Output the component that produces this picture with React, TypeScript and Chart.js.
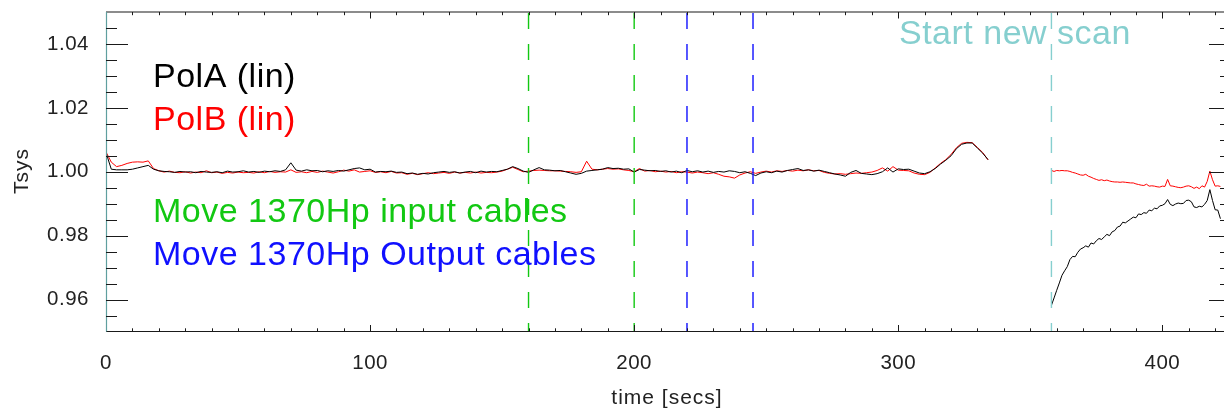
import React, { useEffect, useRef } from "react";
import { Chart, registerables } from "chart.js";

Chart.register(...registerables);

// ---- data ----
const SCAN1_START = 0;
const SCAN1_STEP = 2;
const SCAN2_START = 358;
const SCAN2_STEP = 1;

const polA_scan1 = [
  1.0060, 1.0008, 1.0006, 1.0006, 1.0006, 1.0008, 1.0012, 1.0016, 1.0020, 1.0008,
  1.0003, 1.0001, 1.0000, 0.9998, 1.0001, 0.9999, 1.0000, 0.9997, 1.0001, 0.9999,
  0.9998, 1.0000, 0.9997, 1.0002, 0.9999, 1.0000, 1.0003, 0.9999, 1.0001, 0.9998,
  1.0002, 1.0000, 1.0003, 1.0001, 1.0006, 1.0028, 1.0005, 1.0002, 1.0006, 1.0003,
  1.0004, 1.0000, 1.0003, 1.0001, 1.0004, 1.0002, 1.0006, 1.0010, 1.0012, 1.0006,
  1.0008, 0.9999, 1.0001, 1.0000, 1.0002, 0.9998, 0.9999, 0.9994, 0.9996, 0.9992,
  0.9995, 0.9993, 0.9997, 0.9999, 1.0001, 0.9998, 1.0000, 0.9996, 0.9999, 1.0001,
  0.9997, 1.0002, 0.9999, 1.0001, 1.0000, 1.0004, 1.0008, 1.0016, 1.0010, 1.0002,
  0.9998, 1.0006, 1.0013, 1.0006, 1.0005, 1.0003, 1.0004, 1.0000, 0.9996, 0.9992,
  0.9995, 1.0002, 1.0004, 1.0006, 1.0008, 1.0013, 1.0010, 1.0011, 1.0008, 1.0009,
  0.9999, 1.0007, 1.0005, 1.0003, 1.0004, 1.0001, 1.0003, 0.9999, 1.0002, 0.9997,
  1.0004, 1.0000, 1.0003, 0.9999, 1.0002, 0.9998, 1.0001, 0.9999, 1.0003, 1.0001,
  0.9997, 1.0000, 0.9995, 0.9988, 0.9996, 1.0000, 0.9997, 1.0002, 0.9999, 1.0004,
  1.0007, 1.0010, 1.0004, 1.0006, 1.0002, 1.0005, 1.0001, 0.9997, 0.9993, 0.9990,
  0.9986, 0.9998, 1.0004, 0.9995, 0.9993, 0.9991, 0.9994, 1.0000, 1.0012, 0.9999,
  1.0009, 1.0007, 1.0008, 1.0002, 0.9996, 0.9994, 1.0000, 1.0010, 1.0024, 1.0036,
  1.0050, 1.0072, 1.0086, 1.0090, 1.0090, 1.0074, 1.0058, 1.0038,
];

const polB_scan1 = [
  1.0062, 1.0030, 1.0016, 1.0020, 1.0026, 1.0030, 1.0031, 1.0030, 1.0034, 1.0010,
  1.0003, 0.9999, 1.0002, 0.9998, 0.9997, 1.0000, 0.9996, 0.9999, 0.9997, 1.0003,
  0.9997, 0.9999, 0.9995, 0.9998, 0.9996, 0.9999, 0.9997, 0.9998, 0.9996, 1.0000,
  0.9997, 1.0001, 0.9998, 1.0000, 0.9999, 1.0006, 0.9998, 1.0000, 0.9997, 1.0001,
  0.9998, 1.0002, 0.9999, 0.9996, 1.0000, 1.0005, 1.0002, 1.0006, 0.9999, 1.0001,
  1.0003, 0.9998, 1.0000, 0.9997, 1.0001, 0.9996, 0.9997, 0.9992, 0.9995, 0.9991,
  0.9994, 0.9997, 0.9994, 0.9996, 0.9998, 0.9995, 0.9999, 0.9996, 0.9998, 0.9996,
  0.9999, 0.9996, 0.9998, 0.9997, 0.9999, 1.0002, 1.0008, 1.0014, 1.0007, 1.0000,
  1.0002, 1.0004, 1.0005, 1.0004, 1.0003, 1.0003, 1.0002, 1.0001, 1.0000, 0.9998,
  1.0000, 1.0033, 1.0008, 1.0006, 1.0008, 1.0010, 1.0008, 1.0009, 1.0006, 1.0004,
  1.0000, 1.0010, 1.0002, 1.0004, 1.0000, 1.0002, 0.9999, 1.0001, 0.9997, 1.0000,
  0.9999, 0.9996, 0.9999, 0.9997, 0.9994, 0.9997, 0.9992, 0.9986, 0.9984, 0.9980,
  0.9990, 0.9996, 1.0000, 0.9995, 0.9999, 1.0002, 0.9999, 1.0003, 1.0001, 1.0004,
  1.0002, 1.0005, 1.0003, 1.0006, 1.0003, 1.0004, 0.9998, 0.9995, 0.9993, 0.9994,
  0.9992, 0.9994, 0.9996, 0.9995, 0.9997, 0.9999, 1.0004, 1.0012, 1.0002, 1.0016,
  1.0005, 1.0004, 1.0003, 0.9996, 0.9992, 0.9991, 0.9998, 1.0012, 1.0026, 1.0038,
  1.0054, 1.0075, 1.0089, 1.0092, 1.0091, 1.0076, 1.0060, 1.0037,
];

const polA_scan2 = [
  0.9582, 0.9605, 0.9629, 0.9652, 0.9676, 0.9690, 0.9703, 0.9725, 0.9735, 0.9734,
  0.9748, 0.9758, 0.9762, 0.9768, 0.9764, 0.9777, 0.9774, 0.9784, 0.9791, 0.9788,
  0.9796, 0.9804, 0.9800, 0.9812, 0.9816, 0.9827, 0.9830, 0.9842, 0.9840, 0.9846,
  0.9852, 0.9858, 0.9856, 0.9868, 0.9866, 0.9872, 0.9870, 0.9880, 0.9878, 0.9886,
  0.9884, 0.9893, 0.9895, 0.9900, 0.9913, 0.9898, 0.9894, 0.9899, 0.9902, 0.9900,
  0.9901, 0.9910, 0.9911, 0.9906, 0.9890, 0.9888, 0.9892, 0.9890, 0.9898, 0.9910,
  0.9944, 0.9910, 0.9881, 0.9880, 0.9853,
];

const polB_scan2 = [
  1.0004, 1.0001, 1.0004, 1.0003, 1.0004, 1.0003, 1.0003, 1.0001, 0.9998, 0.9996,
  0.9993, 0.9990, 0.9989, 0.9992, 0.9986, 0.9983, 0.9979, 0.9976, 0.9973, 0.9975,
  0.9972, 0.9974, 0.9971, 0.9969, 0.9968, 0.9968, 0.9967, 0.9968, 0.9967, 0.9966,
  0.9965, 0.9965, 0.9962, 0.9960, 0.9958, 0.9957, 0.9961, 0.9955, 0.9956, 0.9955,
  0.9953, 0.9952, 0.9955, 0.9954, 0.9976, 0.9956, 0.9955, 0.9953, 0.9951, 0.9950,
  0.9952, 0.9955, 0.9956, 0.9953, 0.9948, 0.9952, 0.9947, 0.9956, 0.9952, 0.9970,
  1.0002, 0.9975, 0.9955, 0.9956, 0.9954,
];

const xTickValues = [0, 100, 200, 300, 400];
const yTickValues = [0.96, 0.98, 1.0, 1.02, 1.04];
const inputCableTimes = [160, 200];
const outputCableTimes = [220, 245];
const newScanTimes = [358];

const X_MIN = 0;
const X_MAX = 426;
const Y_MIN = 0.95;
const Y_MAX = 1.05;

// ---- layout / style ----
const CANVAS_W = 1240;
const CANVAS_H = 412;
const PLOT_LEFT = 106;
const PLOT_RIGHT = 1231;
const PLOT_TOP = 12;
const PLOT_BOTTOM = 331.5;
const FONT = '"Liberation Sans", Arial, Helvetica, sans-serif';

const COLOR_A = "#000000";
const COLOR_B = "#ff0000";
const COLOR_GREEN = "#12c812";
const COLOR_BLUE = "#1010ff";
const COLOR_CYAN = "#86cfcf";

function toPoints(vals: number[], start: number, step: number) {
  return vals.map((v, i) => ({ x: start + i * step, y: v as number | null }));
}

const gapX = (SCAN1_START + (polA_scan1.length - 1) * SCAN1_STEP + SCAN2_START) / 2;
const polAData = [
  ...toPoints(polA_scan1, SCAN1_START, SCAN1_STEP),
  { x: gapX, y: null },
  ...toPoints(polA_scan2, SCAN2_START, SCAN2_STEP),
];
const polBData = [
  ...toPoints(polB_scan1, SCAN1_START, SCAN1_STEP),
  { x: gapX, y: null },
  ...toPoints(polB_scan2, SCAN2_START, SCAN2_STEP),
];

const overlayPlugin = {
  id: "idlOverlay",
  beforeDraw(chart: any) {
    (chart.ctx as any).letterSpacing = "0.5px";
  },
  afterDatasetsDraw(chart: any) {
    const ctx = chart.ctx as CanvasRenderingContext2D;
    const a = chart.chartArea;
    const xs = chart.scales.x;
    ctx.save();
    ctx.lineWidth = 1.4;
    ctx.setLineDash([16, 15]);
    const drawV = (vals: number[], color: string) => {
      vals.forEach((v) => {
        const px = xs.getPixelForValue(v);
        ctx.strokeStyle = color;
        ctx.beginPath();
        ctx.moveTo(px, a.top + 1);
        ctx.lineTo(px, a.bottom);
        ctx.stroke();
      });
    };
    drawV(inputCableTimes, COLOR_GREEN);
    drawV(outputCableTimes, COLOR_BLUE);
    drawV(newScanTimes, COLOR_CYAN);
    ctx.restore();
  },
  afterDraw(chart: any) {
    const ctx = chart.ctx as CanvasRenderingContext2D;
    const a = chart.chartArea;
    const xs = chart.scales.x;
    const ys = chart.scales.y;
    ctx.save();
    ctx.setLineDash([]);
    // box
    ctx.strokeStyle = "#1a1a1a";
    ctx.lineWidth = 1.2;
    ctx.beginPath();
    ctx.moveTo(a.left, a.top);
    ctx.lineTo(a.right, a.top);
    ctx.moveTo(a.left, a.bottom);
    ctx.lineTo(a.right, a.bottom);
    ctx.moveTo(a.right, a.top);
    ctx.lineTo(a.right, a.bottom);
    ctx.stroke();
    ctx.strokeStyle = "#5f9f9f";
    ctx.beginPath();
    ctx.moveTo(a.left + 0.5, a.top);
    ctx.lineTo(a.left + 0.5, a.bottom);
    ctx.stroke();

    // x ticks (inward, bottom and top)
    ctx.strokeStyle = "#1a1a1a";
    ctx.lineWidth = 1;
    ctx.beginPath();
    for (let t = 10; t <= X_MAX; t += 10) {
      const px = Math.round(xs.getPixelForValue(t)) + 0.5;
      const len = t % 100 === 0 ? 6.5 : 3.2;
      ctx.moveTo(px, a.bottom);
      ctx.lineTo(px, a.bottom - len);
      ctx.moveTo(px, a.top);
      ctx.lineTo(px, a.top + len);
    }
    // y ticks (inward, left and right)
    for (let k = 191; k <= 209; k++) {
      const v = k * 0.005;
      const py = Math.round(ys.getPixelForValue(v)) + 0.5;
      const len = k % 4 === 0 ? 22 : 11;
      ctx.moveTo(a.left, py);
      ctx.lineTo(a.left + len, py);
      ctx.moveTo(a.right, py);
      ctx.lineTo(a.right - len, py);
    }
    ctx.stroke();

    // annotation texts
    (ctx as any).letterSpacing = "0.5px";
    ctx.textAlign = "left";
    ctx.textBaseline = "alphabetic";
    ctx.font = `34px ${FONT}`;
    ctx.fillStyle = COLOR_A;
    ctx.fillText("PolA (lin)", 153, 86.5);
    ctx.fillStyle = COLOR_B;
    ctx.fillText("PolB (lin)", 153, 130);
    ctx.fillStyle = COLOR_GREEN;
    ctx.fillText("Move 1370Hp input cables", 153, 221.5);
    ctx.fillStyle = COLOR_BLUE;
    ctx.fillText("Move 1370Hp Output cables", 153, 265);
    ctx.fillStyle = COLOR_CYAN;
    ctx.fillText("Start new scan", 899, 43.5);

    // axis titles
    ctx.fillStyle = "#222";
    ctx.font = `21px ${FONT}`;
    (ctx as any).letterSpacing = "1px";
    ctx.textAlign = "center";
    ctx.textBaseline = "middle";
    ctx.fillText("time [secs]", 667, 398);
    ctx.save();
    ctx.translate(28, 171);
    ctx.rotate(-Math.PI / 2);
    ctx.textBaseline = "alphabetic";
    ctx.fillText("Tsys", 0, 0);
    ctx.restore();

    ctx.restore();
    (ctx as any).letterSpacing = "0px";
  },
};

export default function App() {
  const canvasRef = useRef<HTMLCanvasElement | null>(null);

  useEffect(() => {
    const canvas = canvasRef.current;
    if (!canvas) return;
    const tickFont = { family: FONT, size: 20.5 };
    const chart = new Chart(canvas, {
      type: "line",
      data: {
        datasets: [
          {
            label: "PolA (lin)",
            data: polAData as any,
            borderColor: COLOR_A,
            borderWidth: 1,
            pointRadius: 0,
            tension: 0,
            spanGaps: false,
          },
          {
            label: "PolB (lin)",
            data: polBData as any,
            borderColor: COLOR_B,
            borderWidth: 1,
            pointRadius: 0,
            tension: 0,
            spanGaps: false,
          },
        ],
      },
      options: {
        animation: false,
        responsive: false,
        maintainAspectRatio: false,
        events: [],
        layout: {
          padding: { top: PLOT_TOP, right: CANVAS_W - PLOT_RIGHT, left: 0, bottom: 0 },
        },
        plugins: {
          legend: { display: false },
          tooltip: { enabled: false },
          title: { display: false },
        },
        scales: {
          x: {
            type: "linear",
            min: X_MIN,
            max: X_MAX,
            grid: { display: false },
            border: { display: false },
            afterBuildTicks: (s: any) => {
              s.ticks = xTickValues.map((v) => ({ value: v }));
            },
            afterFit: (s: any) => {
              s.height = CANVAS_H - PLOT_BOTTOM;
              s.paddingLeft = 0;
              s.paddingRight = 0;
            },
            ticks: {
              padding: 12,
              font: tickFont,
              color: "#222",
              maxRotation: 0,
              autoSkip: false,
              callback: (v: any) => String(v),
            },
          },
          y: {
            type: "linear",
            min: Y_MIN,
            max: Y_MAX,
            grid: { display: false },
            border: { display: false },
            afterBuildTicks: (s: any) => {
              s.ticks = yTickValues.map((v) => ({ value: v }));
            },
            afterFit: (s: any) => {
              s.width = PLOT_LEFT;
              s.paddingTop = 0;
              s.paddingBottom = 0;
            },
            ticks: {
              padding: 9,
              font: tickFont,
              color: "#222",
              autoSkip: false,
              callback: (v: any) => Number(v).toFixed(2),
            },
          },
        },
      },
      plugins: [overlayPlugin],
    });
    return () => chart.destroy();
  }, []);

  return (
    <div
      style={{
        position: "fixed",
        left: 0,
        top: 0,
        width: 1224,
        height: 412,
        overflow: "hidden",
        background: "#fff",
      }}
    >
      <canvas
        ref={canvasRef}
        width={CANVAS_W}
        height={CANVAS_H}
        style={{ width: CANVAS_W, height: CANVAS_H, display: "block" }}
      />
    </div>
  );
}
